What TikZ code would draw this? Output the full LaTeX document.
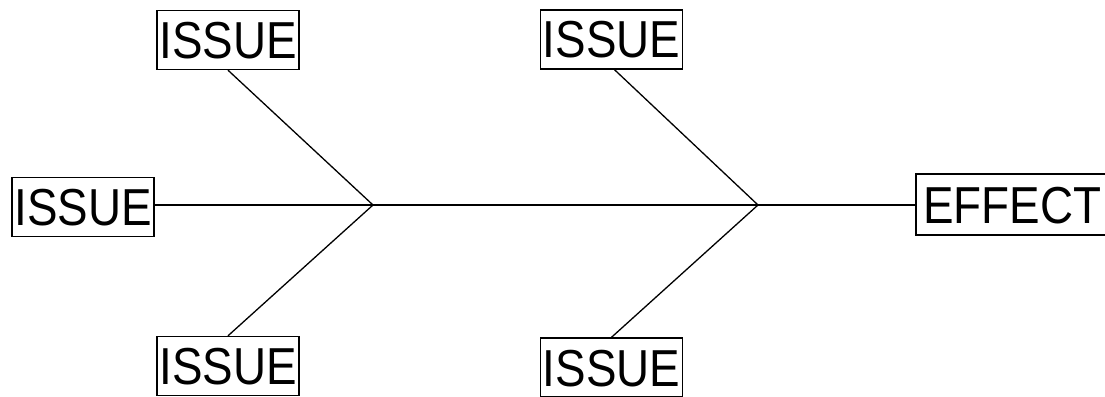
\documentclass[tikz,border=0pt]{standalone}
\usepackage{fontspec}
\newfontfamily\boxfont[FakeStretch=0.88]{Liberation Sans}
\begin{document}
\begin{tikzpicture}[x=1pt,y=-1pt,
  lbl/.style={draw=black, line width=1.4pt, fill=white, inner sep=0pt,
    minimum width=142pt, minimum height=59pt,
    font=\boxfont\fontsize{52}{52}\selectfont, text height=37pt, text depth=0pt},
  bone/.style={line width=1.3pt, black}]
\useasboundingbox (0,0) rectangle (1105,396);
\fill[white] (0,0) rectangle (1105,396);
\coordinate (j1) at (373,205);
\coordinate (j2) at (758,205);
\node[lbl] (tl) at (228,40) {ISSUE};
\node[lbl] (tm) at (611.5,39.5) {ISSUE};
\node[lbl] (ml) at (83,207) {ISSUE};
\node[lbl] (bl) at (228,366) {ISSUE};
\node[lbl] (bm) at (611.5,367.5) {ISSUE};
\node[lbl, minimum width=192pt, minimum height=61pt] (ef) at (1012,204.5) {EFFECT};
\draw[bone] (ml.east |- j1) -- (j1) -- (j2) -- (ef.west |- j2);
\draw[bone] (tl.south) -- (j1);
\draw[bone] (bl.north) -- (j1);
\draw[bone] ([xshift=3pt]tm.south) -- (j2);
\draw[bone] (bm.north) -- (j2);
\end{tikzpicture}
\end{document}
